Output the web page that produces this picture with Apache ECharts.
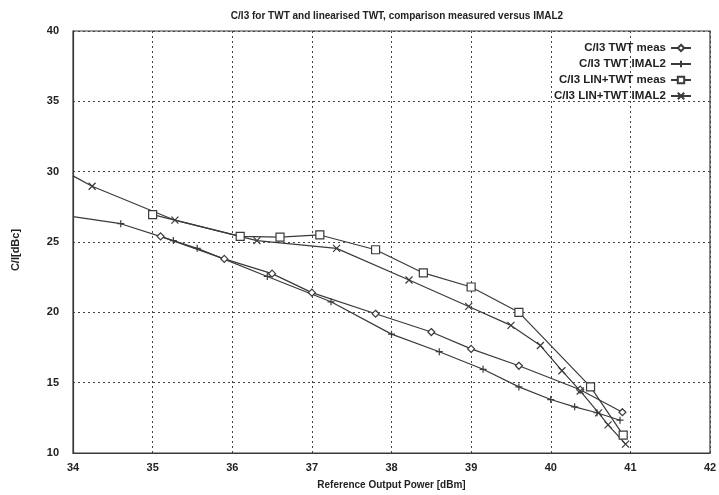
<!DOCTYPE html>
<html>
<head>
<meta charset="utf-8">
<script src="https://cdn.jsdelivr.net/npm/echarts@6/dist/echarts.min.js"></script>
<style>
  html, body { margin: 0; padding: 0; background: #fff; }
  #main { width: 719px; height: 495px; }
</style>
</head>
<body>
<div id="main"></div>
<script>
// values
const xTicks = [34, 35, 36, 37, 38, 39, 40, 41, 42];
const yTicks = [10, 15, 20, 25, 30, 35, 40];

const twtMeasX = [35.1, 35.9, 36.5, 37.0, 37.8, 38.5, 39.0, 39.6, 40.37, 40.9];
const twtMeasY = [25.4, 23.8, 22.75, 21.4, 19.9, 18.6, 17.4, 16.2, 14.5, 12.9];

const twtImalX = [34.0, 34.6, 35.26, 35.56, 36.44, 37.24, 38.0, 38.6, 39.15, 39.6, 40.0, 40.3, 40.58, 40.87];
const twtImalY = [26.8, 26.3, 25.1, 24.55, 22.55, 20.75, 18.45, 17.2, 15.95, 14.7, 13.8, 13.28, 12.86, 12.33];

const linMeasX = [35.0, 36.1, 36.6, 37.1, 37.8, 38.4, 39.0, 39.6, 40.5, 40.91];
const linMeasY = [26.95, 25.4, 25.35, 25.5, 24.45, 22.8, 21.8, 20.0, 14.7, 11.27];

const linImalX = [34.0, 34.24, 35.28, 36.31, 37.31, 38.22, 38.97, 39.5, 39.87, 40.14, 40.37, 40.6, 40.72, 40.94];
const linImalY = [29.7, 28.96, 26.55, 25.1, 24.55, 22.3, 20.42, 19.07, 17.64, 15.85, 14.41, 12.85, 12.0, 10.63];

const names = ['C/I3 TWT meas', 'C/I3 TWT IMAL2', 'C/I3 LIN+TWT meas', 'C/I3 LIN+TWT IMAL2'];

const ink = '#3a3a3a';
const font = 'Liberation Sans, Arial, sans-serif';
const plusPath = 'path://M0,5L10,5M5,0L5,10';
const crossPath = 'path://M0,0L10,10M10,0L0,10';

function pairs(xs, ys, hideFirstAtEdge) {
  return xs.map(function (x, i) {
    if (hideFirstAtEdge && i === 0) return { value: [x, ys[i]], symbol: 'none' };
    return [x, ys[i]];
  });
}

function mkSeries(name, data, symbol, size, fill) {
  return {
    name: name,
    type: 'line',
    data: data,
    symbol: symbol,
    symbolSize: size,
    showAllSymbol: true,
    lineStyle: { color: ink, width: 1.2 },
    itemStyle: { color: fill, borderColor: ink, borderWidth: 1.2 },
    emphasis: { disabled: true },
    animation: false
  };
}

var dom = document.getElementById('main');
var myChart = echarts.init(dom, null, { renderer: 'canvas' });

var option = {
  backgroundColor: '#fff',
  title: {
    text: 'C/I3 for TWT and linearised TWT, comparison measured versus IMAL2',
    left: 392,
    textAlign: 'center',
    top: 6,
    textStyle: { fontFamily: font, fontSize: 10, fontWeight: 'bold', color: '#222' }
  },
  legend: {
    orient: 'vertical',
    right: 22,
    top: 37,
    align: 'right',
    itemGap: 4,
    itemWidth: 20,
    itemHeight: 8,
    data: names,
    textStyle: { fontFamily: font, fontSize: 11.5, fontWeight: 'bold', color: '#222' }
  },
  grid: {
    left: 73,
    right: 9,
    top: 31,
    bottom: 42,
    outerBoundsMode: 'none',
    show: true,
    borderColor: ink,
    borderWidth: 1.2
  },
  xAxis: {
    type: 'value',
    min: xTicks[0],
    max: xTicks[xTicks.length - 1],
    interval: 1,
    name: 'Reference Output Power [dBm]',
    nameLocation: 'middle',
    nameGap: 27,
    nameTextStyle: { fontFamily: font, fontSize: 10, fontWeight: 'bold', color: '#222' },
    axisLine: { show: true, lineStyle: { color: ink, width: 1.2 } },
    axisTick: { show: false },
    axisLabel: { fontFamily: font, fontSize: 11, fontWeight: 'bold', color: '#222', margin: 9 },
    splitLine: { show: true, lineStyle: { color: '#444', type: [2, 3], width: 1 } }
  },
  yAxis: {
    type: 'value',
    min: yTicks[0],
    max: yTicks[yTicks.length - 1],
    interval: 5,
    name: 'C/I[dBc]',
    nameLocation: 'middle',
    nameGap: 52,
    nameMoveOverlap: false,
    nameTextStyle: { fontFamily: font, fontSize: 11, fontWeight: 'bold', color: '#222', padding: [0, 16, 0, 0] },
    axisLine: { show: true, lineStyle: { color: ink, width: 1.2 } },
    axisTick: { show: false },
    axisLabel: { fontFamily: font, fontSize: 11, fontWeight: 'bold', color: '#222', margin: 14 },
    splitLine: { show: true, lineStyle: { color: '#444', type: [2, 3], width: 1 } }
  },
  series: [
    mkSeries(names[0], pairs(twtMeasX, twtMeasY, false), 'diamond', 7, '#fff'),
    mkSeries(names[1], pairs(twtImalX, twtImalY, true), plusPath, 7, 'none'),
    mkSeries(names[2], pairs(linMeasX, linMeasY, false), 'rect', 8, '#fff'),
    mkSeries(names[3], pairs(linImalX, linImalY, true), crossPath, 7, 'none')
  ]
};

myChart.setOption(option);
window.addEventListener('resize', myChart.resize);
</script>
</body>
</html>
